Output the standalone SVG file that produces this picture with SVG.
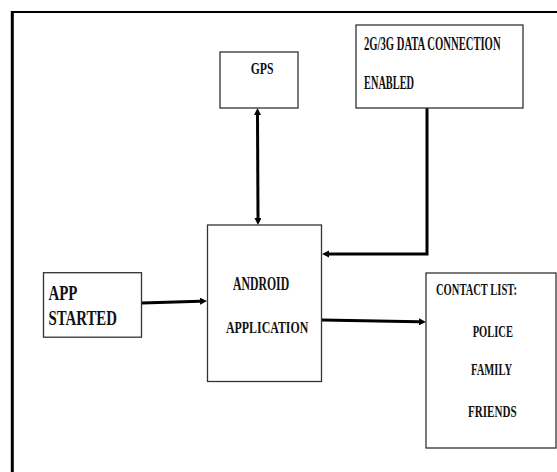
<svg xmlns="http://www.w3.org/2000/svg" width="557" height="472" viewBox="0 0 557 472">
<style>
.box{fill:#fff;stroke:#333;stroke-width:1.3}
.t{font-family:"Liberation Serif","Times New Roman",serif;font-weight:bold;fill:#111;font-size:17px}
.c{fill:none;stroke:#000;stroke-width:3}
</style>
<defs>
<marker id="ah" markerUnits="userSpaceOnUse" markerWidth="9" markerHeight="9" refX="0" refY="3.5" orient="auto-start-reverse">
<path d="M0,0 L7,3.5 L0,7 z" fill="#000"/>
</marker>
</defs>
<rect width="557" height="472" fill="#fff"/>
<g id="frame">
<line x1="12.3" y1="11" x2="12.3" y2="472" stroke="#000" stroke-width="3"/>
<line x1="11" y1="12" x2="557" y2="12" stroke="#000" stroke-width="2"/>
</g>
<g id="connectors">
<line class="c" x1="257.5" y1="115" x2="258" y2="218" stroke-width="2" marker-start="url(#ah)" marker-end="url(#ah)"/>
<polyline class="c" points="427,108 427,254 329,254" marker-end="url(#ah)"/>
<line class="c" x1="142" y1="303" x2="200" y2="301.2" marker-end="url(#ah)"/>
<line class="c" x1="322" y1="320" x2="419" y2="321.8" marker-end="url(#ah)"/>
</g>
<g id="gps">
<rect class="box" x="220" y="52" width="78" height="56"/>
<text class="t" transform="translate(250.7,74) scale(0.69,1)" style="font-size:17px">GPS</text>
</g>
<g id="data">
<rect class="box" x="356" y="25" width="167" height="83"/>
<text class="t" transform="translate(364,50) scale(0.56,1)" style="font-size:19px">2G/3G DATA CONNECTION</text>
<text class="t" transform="translate(364,89) scale(0.545,1)" style="font-size:19px">ENABLED</text>
</g>
<g id="android">
<rect class="box" x="207.5" y="225" width="114" height="156.5"/>
<text class="t" transform="translate(233,290) scale(0.66,1)" style="font-size:17.8px">ANDROID</text>
<text class="t" transform="translate(226,333) scale(0.7,1)" style="font-size:17px">APPLICATION</text>
</g>
<g id="app">
<rect class="box" x="43.5" y="272.7" width="98" height="64.5"/>
<text class="t" transform="translate(48.5,300) scale(0.71,1)" style="font-size:21px">APP</text>
<text class="t" transform="translate(48.5,325) scale(0.706,1)" style="font-size:21px">STARTED</text>
</g>
<g id="contacts">
<rect class="box" x="426" y="273" width="130" height="175"/>
<text class="t" transform="translate(436,295) scale(0.62,1)" style="font-size:17px">CONTACT LIST:</text>
<text class="t" transform="translate(472.7,336.5) scale(0.6,1)" style="font-size:17.5px">POLICE</text>
<text class="t" transform="translate(471,375) scale(0.606,1)" style="font-size:17.5px">FAMILY</text>
<text class="t" transform="translate(468,416.5) scale(0.634,1)" style="font-size:17.5px">FRIENDS</text>
</g>
</svg>
